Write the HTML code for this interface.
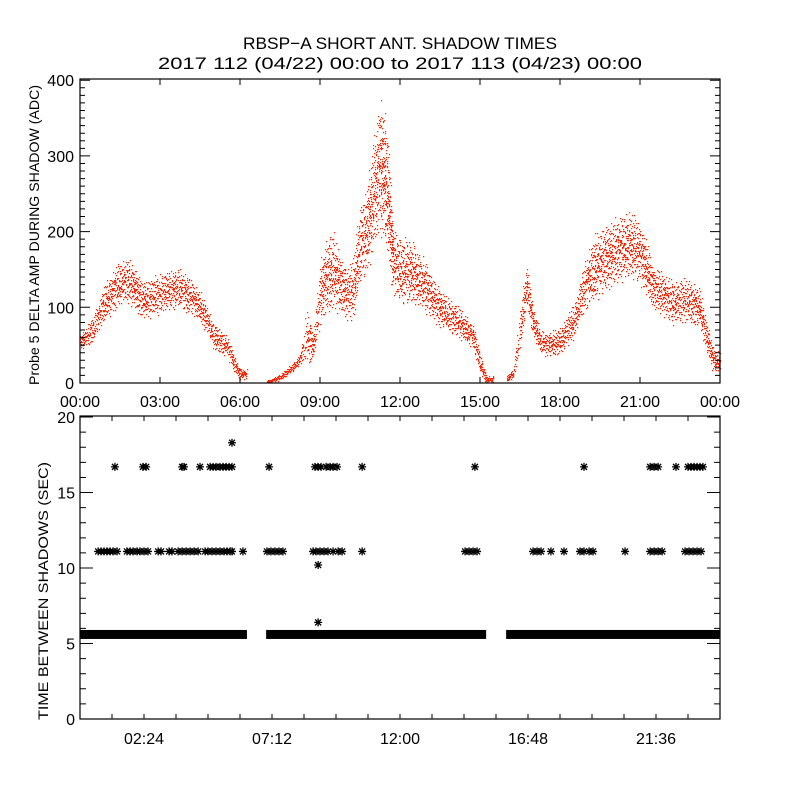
<!DOCTYPE html>
<html><head><meta charset="utf-8"><style>
html,body{margin:0;padding:0;background:#fff;}
svg{display:block;font-family:"Liberation Sans",sans-serif;}
</style></head><body>
<svg id="chart" width="800" height="800" viewBox="0 0 800 800" xmlns="http://www.w3.org/2000/svg">
<rect width="800" height="800" fill="#fff"/>
<text x="400" y="49" font-size="17" text-anchor="middle" textLength="314" lengthAdjust="spacingAndGlyphs">RBSP−A SHORT ANT. SHADOW TIMES</text>
<text x="400" y="69" font-size="17" text-anchor="middle" textLength="484" lengthAdjust="spacingAndGlyphs">2017 112 (04/22) 00:00 to 2017 113 (04/23) 00:00</text>
<g id="topPanel"></g>
<g id="botPanel"></g>
</svg>
<script>
// ---- top panel data (hours, mean amplitude, spread) ----
const ampHours = [0,0.25,0.5,0.75,1,1.25,1.5,1.75,2,2.25,2.5,2.75,3,3.25,3.5,3.75,4,4.25,4.5,4.75,5,5.25,5.5,5.75,6,
7,7.25,7.5,7.75,8,8.25,8.5,8.75,9,9.25,9.5,9.75,10,10.25,10.5,10.75,11,11.25,11.5,11.75,12,12.25,12.5,12.75,13,13.25,13.5,13.75,14,14.25,14.5,14.75,15,15.25,
16,16.25,16.5,16.75,17,17.25,17.5,17.75,18,18.25,18.5,18.75,19,19.25,19.5,19.75,20,20.25,20.5,20.75,21,21.25,21.5,21.75,22,22.25,22.5,22.75,23,23.25,23.5,23.75];
const ampMean = [55,62,72,95,110,122,132,135,130,112,110,115,118,122,125,125,118,112,100,85,62,55,50,28,12,
2,4,8,14,22,32,60,50,120,140,150,130,118,125,185,200,250,290,260,160,150,148,145,135,125,110,100,92,85,80,70,62,25,5,
6,12,70,130,80,55,52,52,55,70,80,110,135,150,160,165,172,178,182,180,172,150,125,120,115,105,108,110,105,98,60,30];
const ampSpread = [8,10,12,15,18,20,20,20,20,18,18,18,18,18,18,18,18,15,15,12,12,12,10,8,5,
1,2,3,3,4,5,25,12,30,35,35,25,25,30,35,40,50,60,60,30,30,30,28,25,22,20,18,15,15,15,12,12,10,3,
3,4,20,20,15,10,12,12,12,15,15,20,25,30,30,30,30,30,30,30,28,25,20,20,20,20,20,20,20,18,15,10];
const topXTicks = ["00:00","03:00","06:00","09:00","12:00","15:00","18:00","21:00","00:00"];
const topYTicks = [0,100,200,300,400];

// ---- bottom panel data (hours) ----
const row167Hours = [1.31,2.36,2.48,3.83,3.90,4.50,4.88,4.99,5.10,5.25,5.36,5.48,5.59,5.70,7.09,8.81,8.93,9.04,9.23,9.38,9.49,9.64,10.58,14.81,18.90,21.38,21.53,21.68,22.35,22.80,22.91,23.03,23.14,23.25,23.36];
const row111Hours = [0.68,0.79,0.90,1.01,1.13,1.24,1.39,1.76,1.88,1.99,2.14,2.25,2.40,2.55,2.93,3.04,3.34,3.45,3.68,3.83,3.98,4.13,4.28,4.43,4.69,4.80,4.95,5.10,5.25,5.40,5.51,5.63,5.70,6.11,7.01,7.16,7.31,7.46,7.61,8.74,8.85,9.00,9.15,9.30,9.49,9.68,9.83,10.58,14.44,14.59,14.74,14.89,16.99,17.14,17.29,17.66,18.15,18.75,18.90,19.09,19.24,20.44,21.38,21.53,21.68,21.83,22.69,22.84,22.99,23.14,23.29];
const oddHours = [5.70,8.93,8.93];
const oddValues = [18.3,10.2,6.4];
const bandStart = [0,6.98,15.98];
const bandEnd = [6.26,15.23,24];
const bandValue = 5.6;
const botXTicks = ["02:24","07:12","12:00","16:48","21:36"];
const botYTicks = [0,5,10,15,20];

const NS="http://www.w3.org/2000/svg";
function mk(tag,attrs,parent){const e=document.createElementNS(NS,tag);for(const k in attrs)e.setAttribute(k,attrs[k]);parent.appendChild(e);return e;}
const L=80,R=720;
const xs=h=>L+(h/24)*(R-L);
const tT=79,tB=383,tMax=401.6;
const ty=v=>tB-(v/tMax)*(tB-tT);
const bT=416,bB=719,bMax=20.07;
const by=v=>bB-(v/bMax)*(bB-bT);

const topG=document.getElementById('topPanel'), botG=document.getElementById('botPanel');

function halton(i,b){let f=1,r=0;while(i>0){f/=b;r+=f*(i%b);i=Math.floor(i/b);}return r;}

// ---- top scatter ----
const dots=mk('g',{},topG);


let d='';
let n=0;
for(let i=0;i<ampHours.length;i++){
  const h0=ampHours[i], m=ampMean[i], s=ampSpread[i];
  const nextOk = i+1<ampHours.length && ampHours[i+1]-h0<0.3;
  const m1 = nextOk?ampMean[i+1]:m, s1=nextOk?ampSpread[i+1]:s;
  const cnt=Math.round(25+s*2.2);
  for(let k=0;k<cnt;k++){
    n++;
    const u=halton(n,2), w=(halton(n,3)+halton(n,5))/2;
    const mm=m+(m1-m)*u, ss=s+(s1-s)*u;
    const v=Math.max(0,mm+(w*2-1)*ss*1.6);
    const x=Math.round(xs(h0+u*0.25)), y=Math.round(ty(v));
    d+=`M${x} ${y}h1.2v1.2h-1.2z`;
  }
}
mk('path',{d:d,fill:'#ff2200'},dots);

function axes(g,T,B){
  mk('rect',{x:L,y:T,width:R-L,height:B-T,fill:'none',stroke:'#000','stroke-width':1.2},g);
}
axes(topG,tT,tB);
let tk='';
for(let v=0;v<=400;v+=10){const y=ty(v);const len=v%100===0?10:5;tk+=`M${L} ${y}h${len}M${R} ${y}h${-len}`;}
topXTicks.forEach((lab,i)=>{const x=xs(i*3);tk+=`M${x} ${tB}v-6M${x} ${tT}v6`;});
mk('path',{d:tk,stroke:'#000','stroke-width':1,fill:'none'},topG);
topYTicks.forEach(v=>{
  const t=mk('text',{x:74,y:ty(v)+6,'font-size':16,'text-anchor':'end'},topG);t.textContent=v;
  
  
});
topXTicks.forEach((lab,i)=>{
  const t=mk('text',{x:xs(i*3),y:407,'font-size':16,'text-anchor':'middle'},topG);t.textContent=lab;
  
  
});
const tyt=mk('text',{x:0,y:0,'font-size':14,'text-anchor':'middle',textLength:300,lengthAdjust:'spacingAndGlyphs',transform:`translate(39,${(tT+tB)/2+4}) rotate(-90)`},topG);
tyt.textContent='Probe 5 DELTA AMP DURING SHADOW (ADC)';



// ---- bottom panel ----
function star(x,y){const r=4,q=3;return `M${x-r} ${y}h${2*r}M${x} ${y-r}v${2*r}M${x-q} ${y-q}l${2*q} ${2*q}M${x-q} ${y+q}l${2*q} ${-2*q}`;}
let sd='';
row167Hours.forEach(h=>{sd+=star(xs(h),by(16.7));});
row111Hours.forEach(h=>{sd+=star(xs(h),by(11.1));});
oddHours.forEach((h,i)=>{sd+=star(xs(h),by(oddValues[i]));});
const stars=mk('path',{d:sd,stroke:'#000','stroke-width':1.3,fill:'none'},botG);


for(let i=0;i<bandStart.length;i++){
  const x0=Math.max(L,xs(bandStart[i])), x1=Math.min(R,xs(bandEnd[i]));
  const b=mk('rect',{x:x0,y:by(bandValue)-4.5,width:x1-x0,height:9,fill:'#000'},botG);
  
  
}
axes(botG,bT,bB);
let bk='';
for(let v=0;v<=20;v+=1){const y=by(v);const len=v%5===0?13:6;bk+=`M${L} ${y}h${len}M${R} ${y}h${-len}`;}
for(let h=1.2;h<24;h+=1.2){const x=xs(h);bk+=`M${x} ${bB}v-5M${x} ${bT}v5`;}
mk('path',{d:bk,stroke:'#000','stroke-width':1,fill:'none'},botG);
botYTicks.forEach(v=>{
  const t=mk('text',{x:75,y:by(v)+6,'font-size':16,'text-anchor':'end'},botG);t.textContent=v;
  
  
});
botXTicks.forEach((lab,i)=>{
  const t=mk('text',{x:xs(2.4+i*4.8),y:744,'font-size':16,'text-anchor':'middle'},botG);t.textContent=lab;
  
  
});
const byt=mk('text',{x:0,y:0,'font-size':14,'text-anchor':'middle',textLength:258,lengthAdjust:'spacingAndGlyphs',transform:`translate(48,591) rotate(-90)`},botG);
byt.textContent='TIME BETWEEN SHADOWS (SEC)';


</script>
</body></html>
